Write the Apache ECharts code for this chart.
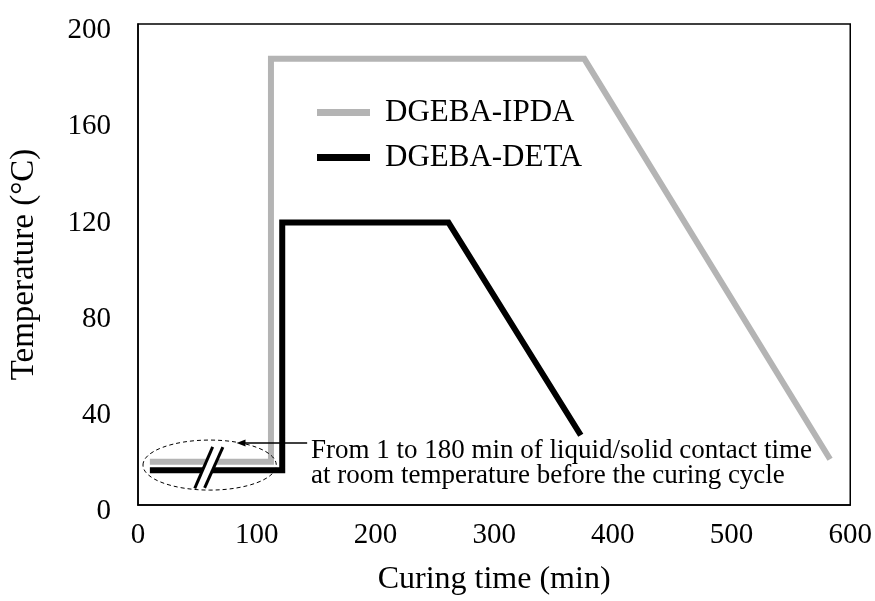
<!DOCTYPE html>
<html><head><meta charset="utf-8">
<script src="https://cdn.jsdelivr.net/npm/echarts@6/dist/echarts.min.js"></script>
<style>html,body{margin:0;padding:0;background:#fff}#c{width:875px;height:601px}</style>
</head><body><div id="c"></div>
<script>
// Data
const seriesNames = ['DGEBA-IPDA', 'DGEBA-DETA'];
const ipdaTime = [10, 112, 112, 376, 583];
const ipdaTemp = [18, 18, 185.5, 185.5, 19];
const detaTime = [10, 121.5, 121.5, 261.5, 373];
const detaTemp = [14.5, 14.5, 117.5, 117.5, 29];
const xTickValues = [0, 100, 200, 300, 400, 500, 600];
const yTickValues = [0, 40, 80, 120, 160, 200];
const noteText = ['From 1 to 180 min of liquid/solid contact time', 'at room temperature before the curing cycle'];

const FONT = '"Liberation Serif", "Times New Roman", serif';
const zip = (a, b) => a.map((v, i) => [v, b[i]]);

const chart = echarts.init(document.getElementById('c'), null, {renderer: 'canvas'});
const option = {
  backgroundColor: '#fff',
  animation: false,
  grid: {left: 138, right: 21, top: 24, bottom: 96, show: true, borderColor: '#000', borderWidth: 1.5, backgroundColor: 'transparent'},
  xAxis: {
    type: 'value', min: xTickValues[0], max: xTickValues[xTickValues.length - 1], interval: 100,
    name: 'Curing time (min)', nameLocation: 'middle', nameGap: 59,
    nameTextStyle: {fontFamily: FONT, fontSize: 32, color: '#000'},
    axisLine: {show: true, lineStyle: {color: '#000', width: 1.5}},
    axisTick: {show: false}, splitLine: {show: false},
    axisLabel: {fontFamily: FONT, fontSize: 29, color: '#000', margin: 16}
  },
  yAxis: {
    type: 'value', min: yTickValues[0], max: yTickValues[yTickValues.length - 1], interval: 40,
    name: 'Temperature (°C)', nameLocation: 'middle', nameGap: 97,
    nameTextStyle: {fontFamily: FONT, fontSize: 33, color: '#000'},
    axisLine: {show: true, lineStyle: {color: '#000', width: 1.5}},
    axisTick: {show: false}, splitLine: {show: false},
    axisLabel: {fontFamily: FONT, fontSize: 29, color: '#000', margin: 27, verticalAlign: 'top', lineHeight: 13}
  },
  legend: {
    orient: 'vertical', left: 317, top: 97, padding: 0,
    icon: 'rect', itemWidth: 53, itemHeight: 7, itemGap: 14,
    data: seriesNames,
    textStyle: {fontFamily: FONT, fontSize: 31, lineHeight: 31, color: '#000', padding: [0, 0, 0, 10]}
  },
  series: [
    {name: seriesNames[0], type: 'line', data: zip(ipdaTime, ipdaTemp), symbol: 'none', z: 2,
     lineStyle: {color: '#b4b4b4', width: 6, join: 'miter', cap: 'butt'}, itemStyle: {color: '#b4b4b4'}},
    {name: seriesNames[1], type: 'line', data: zip(detaTime, detaTemp), symbol: 'none', z: 3,
     lineStyle: {color: '#000', width: 6, join: 'miter', cap: 'butt'}, itemStyle: {color: '#000'}}
  ]
};
chart.setOption(option);

// Annotation decorations anchored in data coordinates
const P = (t, T) => chart.convertToPixel({gridIndex: 0}, [t, T]);
const eL = P(4.2, 27), eR = P(116.5, 6.2);
const b1a = P(62.9, 24.2), b1b = P(47.8, 6.9), b2a = P(71.5, 24.1), b2b = P(56.1, 7.1);
const arTip = P(83, 25.8), arTail = P(142.5, 25.8);
const txt = P(145.8, 17.5);
chart.setOption({
  graphic: [
    {type: 'ellipse', z: 100, shape: {cx: (eL[0] + eR[0]) / 2, cy: (eL[1] + eR[1]) / 2, rx: (eR[0] - eL[0]) / 2, ry: (eR[1] - eL[1]) / 2},
     style: {fill: 'none', stroke: '#000', lineWidth: 1, lineDash: [4, 3]}},
    {type: 'polygon', z: 101, shape: {points: [b1a, b2a, b2b, b1b]}, style: {fill: '#fff', stroke: 'none'}},
    {type: 'line', z: 102, shape: {x1: b1a[0], y1: b1a[1], x2: b1b[0], y2: b1b[1]}, style: {stroke: '#000', lineWidth: 3}},
    {type: 'line', z: 102, shape: {x1: b2a[0], y1: b2a[1], x2: b2b[0], y2: b2b[1]}, style: {stroke: '#000', lineWidth: 3}},
    {type: 'line', z: 103, shape: {x1: arTail[0], y1: arTail[1], x2: arTip[0] + 6, y2: arTip[1]}, style: {stroke: '#000', lineWidth: 1.5}},
    {type: 'polygon', z: 103, shape: {points: [[arTip[0], arTip[1]], [arTip[0] + 9, arTip[1] - 3.5], [arTip[0] + 9, arTip[1] + 3.5]]}, style: {fill: '#000'}},
    {type: 'text', z: 104, x: txt[0], y: txt[1],
     style: {text: noteText.join('\n'), font: '27px ' + FONT, fill: '#000', lineHeight: 25, align: 'left', verticalAlign: 'middle'}}
  ]
});
</script></body></html>
